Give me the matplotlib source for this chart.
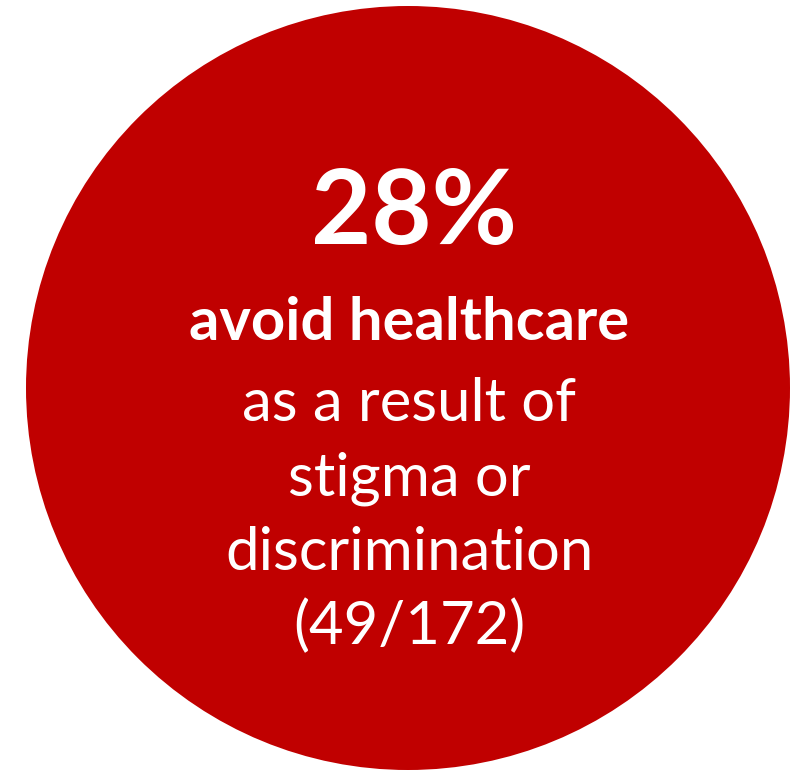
import matplotlib
matplotlib.use("Agg")
import matplotlib.pyplot as plt
from matplotlib.patches import Circle

# headline figure and the caption lines under it
headline = "28%"
caption_bold = "avoid healthcare"
caption_lines = ["as a result of", "stigma or", "discrimination", "(49/172)"]

RED = "#C00000"
W, H = 808, 771

fig = plt.figure(figsize=(W / 100, H / 100), dpi=100)
ax = fig.add_axes([0, 0, 1, 1])
ax.set_xlim(0, W)
ax.set_ylim(H, 0)
ax.set_aspect("equal")
ax.axis("off")

ax.add_patch(Circle((408, 388), 382, color=RED, lw=0))

cx = 409
font = "Lato"
ax.text(cx + 5, 244, headline, ha="center", va="baseline", color="white",
        fontsize=75, fontweight="bold", family=font)
ax.text(cx, 340, caption_bold, ha="center", va="baseline", color="white",
        fontsize=43, fontweight="bold", family=font)
for i, line in enumerate(caption_lines):
    ax.text(cx, 421 + i * 74.5, line, ha="center", va="baseline", color="white",
            fontsize=43, family=font)

fig.savefig("out.png", dpi=100)
